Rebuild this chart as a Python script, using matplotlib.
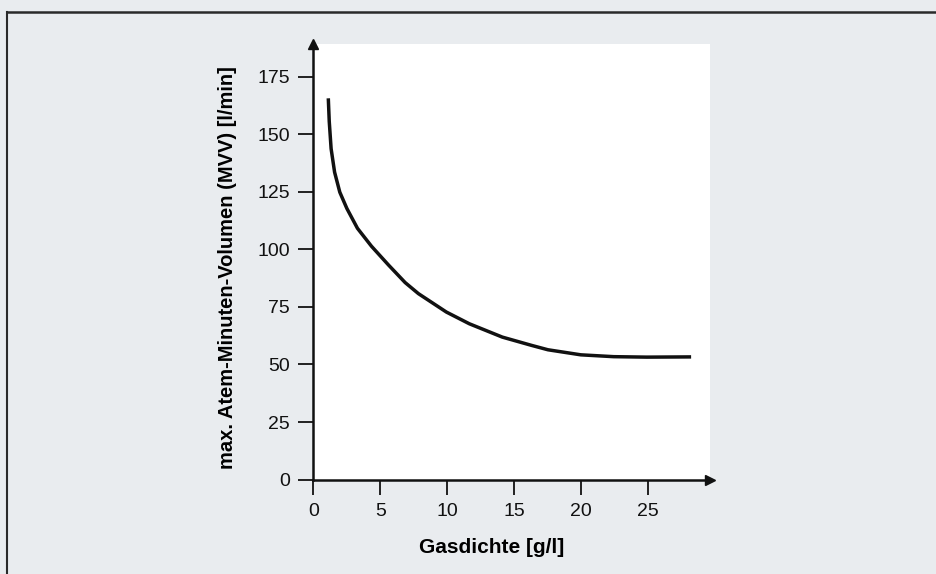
import matplotlib
matplotlib.use('Agg')
import matplotlib.pyplot as plt
from matplotlib.lines import Line2D

# Werte
gasdichte = [1.11, 1.18, 1.32, 1.58, 1.97, 2.50, 3.29, 4.34, 5.62, 6.86, 7.85,
             9.94, 11.66, 14.13, 16.32, 17.54, 20.0, 22.46, 24.93, 28.25]
mvv = [165.7, 155.7, 143.8, 133.6, 124.9, 117.8, 109.2, 101.4, 93.2, 85.6, 80.8,
       72.8, 67.7, 61.9, 58.3, 56.4, 54.2, 53.4, 53.2, 53.3]

x_ticks = [0, 5, 10, 15, 20, 25]
y_ticks = [0, 25, 50, 75, 100, 125, 150, 175]

bg = '#e9ecef'
plt.rcParams['font.family'] = ['Liberation Sans', 'DejaVu Sans']

fig = plt.figure(figsize=(9.36, 5.74), dpi=100, facecolor=bg)
ax = fig.add_axes([0.3349, 0.1646, 0.4236, 0.7587])
ax.set_facecolor('white')

ax.plot(gasdichte, mvv, color='#111111', linewidth=2.5, solid_capstyle='butt',
        solid_joinstyle='round')

ax.set_xlim(0, 29.66)
ax.set_ylim(0, 189.3)
ax.set_xticks(x_ticks)
ax.set_yticks(y_ticks)
ax.tick_params(axis='both', direction='out', length=11, width=1.3, pad=6,
               labelsize=14, colors='#111111')

for s in ['top', 'right']:
    ax.spines[s].set_visible(False)
for s in ['left', 'bottom']:
    ax.spines[s].set_linewidth(1.8)
    ax.spines[s].set_color('#111111')

# Pfeilspitzen an den Achsen
ax.plot(1, 0, '>', color='#111111', markersize=7, transform=ax.transAxes, clip_on=False)
ax.plot(0, 1, '^', color='#111111', markersize=7, transform=ax.transAxes, clip_on=False)

ax.set_xlabel('Gasdichte [g/l]', fontsize=15, fontweight='bold')
ax.set_ylabel('max. Atem-Minuten-Volumen (MVV) [l/min]', fontsize=14.5, fontweight='bold')
ax.xaxis.set_label_coords(0.45, -0.135)
ax.yaxis.set_label_coords(-0.193, 0.486)

# Rahmen der Abbildung
fig.add_artist(Line2D([7 / 936, 1], [1 - 12 / 574, 1 - 12 / 574], color='#2a2a2a', linewidth=1.8))
fig.add_artist(Line2D([7 / 936, 7 / 936], [0, 1 - 12 / 574], color='#2a2a2a', linewidth=1.5))

fig.savefig('out.png', dpi=100, facecolor=bg)
